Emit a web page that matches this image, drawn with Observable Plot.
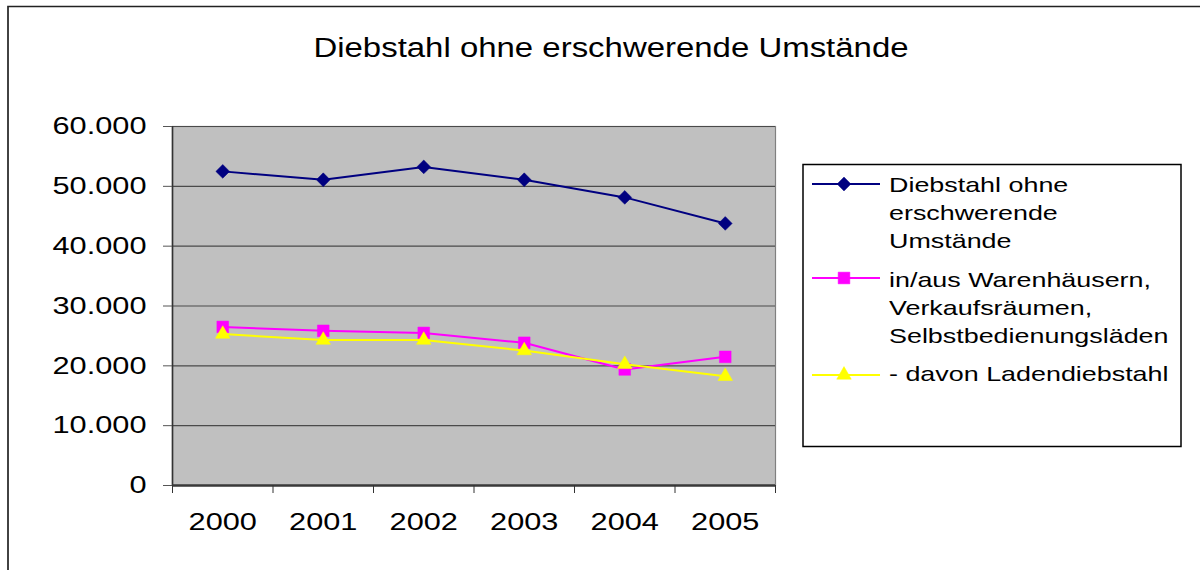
<!DOCTYPE html>
<html>
<head>
<meta charset="utf-8">
<script src="https://cdn.jsdelivr.net/npm/d3@7"></script>
<script src="https://cdn.jsdelivr.net/npm/@observablehq/plot@0.6"></script>
<style>
  html, body { margin: 0; padding: 0; background: #fff; }
  #wrap { position: relative; width: 1200px; height: 570px; overflow: hidden; background: #fff; font-family: "Liberation Sans", Arial, sans-serif; }
  #wrap svg { position: absolute; left: 0; top: 0; }
</style>
</head>
<body>
<div id="wrap"></div>
<script>
// ---- data ----
const title = "Diebstahl ohne erschwerende Umstände";
const years = [2000, 2001, 2002, 2003, 2004, 2005];
const seriesNames = [
  "Diebstahl ohne erschwerende Umstände",
  "in/aus Warenhäusern, Verkaufsräumen, Selbstbedienungsläden",
  "- davon Ladendiebstahl"
];
const legendLines = [
  ["Diebstahl ohne", "erschwerende", "Umstände"],
  ["in/aus Warenhäusern,", "Verkaufsräumen,", "Selbstbedienungsläden"],
  ["- davon Ladendiebstahl"]
];
const diebstahl = [52500, 51100, 53250, 51100, 48150, 43800];
const warenhaus = [26500, 25850, 25500, 23850, 19400, 21500];
const laden     = [25300, 24300, 24300, 22550, 20250, 18250];
const yTicks = [0, 10000, 20000, 30000, 40000, 50000, 60000];
const xBoundaries = [1999.5, 2000.5, 2001.5, 2002.5, 2003.5, 2004.5, 2005.5];

const colors = ["#000080", "#ff00ff", "#ffff00"];
const symbols = ["diamond2", "square", "triangle"];
const radii = [6.2, 6.6, 5.4];

const seriesValues = [diebstahl, warenhaus, laden];
const rows = seriesValues.map((vals, s) => years.map((year, i) => ({year, value: vals[i], series: seriesNames[s]})));

const de = d3.formatLocale({decimal: ",", thousands: ".", grouping: [3], currency: ["", " €"]});
const fmt = de.format(",");

const marks = [
  Plot.frame({fill: "#c0c0c0", stroke: "#808080", strokeWidth: 1.2}),
  Plot.gridY(yTicks, {stroke: "#4a4a4a", strokeOpacity: 1, strokeWidth: 1.2}),
  Plot.ruleX([1999.5], {stroke: "#333", strokeWidth: 1.6}),
  Plot.ruleY([0], {stroke: "#3a3a3a", strokeWidth: 2.6}),
  Plot.axisY({ticks: yTicks, tickFormat: fmt, tickSize: 9, tickPadding: 17, stroke: "#555", fill: "#000", label: null}),
  Plot.axisX({ticks: xBoundaries, tickSize: 8, tickFormat: () => "", stroke: "#333", label: null}),
  Plot.axisX({ticks: years, tickSize: 0, tickPadding: 27, tickFormat: d => String(d), fill: "#000", label: null})
];
rows.forEach((data, s) => {
  marks.push(Plot.line(data, {x: "year", y: "value", stroke: colors[s], strokeWidth: 2}));
  marks.push(Plot.dot(data, {x: "year", y: "value", fill: colors[s], stroke: colors[s], strokeWidth: 0.5, symbol: symbols[s], r: radii[s]}));
});

const chart = Plot.plot({
  width: 1200,
  height: 570,
  marginLeft: 172,
  marginRight: 425,
  marginTop: 126,
  marginBottom: 85,
  style: {fontFamily: "'Liberation Sans', Arial, sans-serif", fontSize: "24px", background: "transparent", overflow: "visible"},
  x: {domain: [1999.5, 2005.5]},
  y: {domain: [0, 60000]},
  marks
});

const wrap = document.getElementById("wrap");

// overlay: outer frame, title, legend
const ov = d3.create("svg").attr("width", 1200).attr("height", 570)
  .style("font-family", "'Liberation Sans', Arial, sans-serif");
ov.append("path").attr("d", "M8,570V6.5H1200").attr("fill", "none").attr("stroke", "#222").attr("stroke-width", 1.7);

wrap.appendChild(ov.node());
wrap.appendChild(chart);

const ov2 = d3.create("svg").attr("width", 1200).attr("height", 570)
  .style("font-family", "'Liberation Sans', Arial, sans-serif");
const titleText = ov2.append("text").attr("x", 611).attr("y", 56.5).attr("text-anchor", "middle")
  .attr("font-size", 27).attr("fill", "#000").text(title);

const lg = ov2.append("g");
lg.append("rect").attr("x", 803).attr("y", 164.5).attr("width", 378).attr("height", 282)
  .attr("fill", "#fff").attr("stroke", "#000").attr("stroke-width", 1.5);
const entryY = [184, 278, 375];
const baseY = [192, 286.5, 381];
legendLines.forEach((lines, s) => {
  const y = entryY[s];
  lg.append("line").attr("x1", 812).attr("x2", 880).attr("y1", y).attr("y2", y)
    .attr("stroke", colors[s]).attr("stroke-width", 2);
  const sym = {diamond2: d3.symbolDiamond2, square: d3.symbolSquare, triangle: d3.symbolTriangle}[symbols[s]];
  lg.append("path").attr("d", d3.symbol(sym, radii[s] * radii[s] * Math.PI)())
    .attr("transform", `translate(844,${y})`).attr("fill", colors[s]).attr("stroke", colors[s]).attr("stroke-width", 0.5);
  lines.forEach((ln, j) => {
    lg.append("text").attr("class", "lgtext").attr("x", 889).attr("y", baseY[s] + j * 28)
      .attr("font-size", 21).attr("fill", "#000").text(ln);
  });
});
wrap.appendChild(ov2.node());

function stretch(nodes, k) {
  nodes.forEach(t => {
    const w = t.getComputedTextLength();
    if (w > 0) {
      t.setAttribute("textLength", (w * k).toFixed(1));
      t.setAttribute("lengthAdjust", "spacingAndGlyphs");
    }
  });
}
stretch(chart.querySelectorAll("text"), 1.28);
stretch([titleText.node()], 1.22);
stretch(ov2.node().querySelectorAll("text.lgtext"), 1.28);
</script>
</body>
</html>
